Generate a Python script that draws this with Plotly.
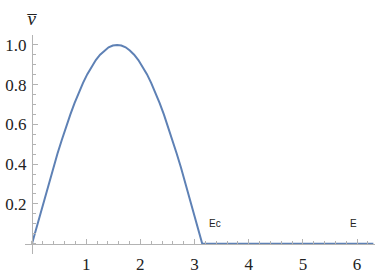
import plotly.graph_objects as go

# Curve values
x_vals = [0.0, 0.079, 0.157, 0.236, 0.314, 0.393, 0.471, 0.55, 0.628, 0.707, 0.785,
          0.864, 0.942, 1.021, 1.1, 1.178, 1.257, 1.335, 1.414, 1.492, 1.571,
          1.649, 1.728, 1.806, 1.885, 1.963, 2.042, 2.121, 2.199, 2.278, 2.356,
          2.435, 2.513, 2.592, 2.67, 2.749, 2.827, 2.906, 2.985, 3.063, 3.142, 6.3]
y_vals = [0.0, 0.078, 0.156, 0.233, 0.309, 0.383, 0.454, 0.522, 0.588, 0.649, 0.707,
          0.76, 0.809, 0.853, 0.891, 0.924, 0.951, 0.972, 0.988, 0.997, 1.0,
          0.997, 0.988, 0.972, 0.951, 0.924, 0.891, 0.853, 0.809, 0.76, 0.707,
          0.649, 0.588, 0.522, 0.454, 0.383, 0.309, 0.233, 0.156, 0.078, 0.0, 0.0]

x_ticks = [1, 2, 3, 4, 5, 6]
y_ticks = [0.2, 0.4, 0.6, 0.8, 1.0]
y_tick_text = ["0.2", "0.4", "0.6", "0.8", "1.0"]

point_labels = ["Ec", "E"]
point_label_x = [3.38, 5.94]
point_label_y = [0.104, 0.104]

xr = [-0.129, 6.33]
yr = [-0.052, 1.05]

fig = go.Figure()
fig.add_trace(go.Scatter(x=x_vals, y=y_vals, mode="lines",
                         line=dict(color="#5E81B5", width=2), hoverinfo="skip"))

axis_color = "#b3b3b3"
serif = "'Liberation Serif', serif"
tick_font = dict(family=serif, size=17, color="#222222")

fig.update_layout(
    width=382, height=277,
    font=dict(family=serif),
    margin=dict(l=25, r=7, t=35, b=23, autoexpand=False),
    paper_bgcolor="white", plot_bgcolor="white",
    showlegend=False,
    xaxis=dict(range=xr, showgrid=False, zeroline=False, automargin=False,
               showline=True, linecolor=axis_color, linewidth=1,
               anchor="free", position=(0 - yr[0]) / (yr[1] - yr[0]),
               tickmode="array", tickvals=x_ticks, ticktext=[str(t) for t in x_ticks],
               ticks="inside", ticklen=5, tickcolor=axis_color, tickwidth=1,
               tickfont=tick_font, ticklabelstandoff=5,
               minor=dict(dtick=0.2, tick0=0, ticks="inside", ticklen=3,
                          tickcolor=axis_color, showgrid=False)),
    yaxis=dict(range=yr, showgrid=False, zeroline=False, automargin=False,
               showline=True, linecolor=axis_color, linewidth=1,
               anchor="free", position=(0 - xr[0]) / (xr[1] - xr[0]),
               tickmode="array", tickvals=y_ticks, ticktext=y_tick_text,
               ticks="inside", ticklen=5, tickcolor=axis_color, tickwidth=1,
               tickfont=tick_font, ticklabelstandoff=2,
               minor=dict(dtick=0.05, tick0=0, ticks="inside", ticklen=3,
                          tickcolor=axis_color, showgrid=False)),
)

for t, px, py in zip(point_labels, point_label_x, point_label_y):
    fig.add_annotation(x=px, y=py, xref="x", yref="y", text=t, showarrow=False,
                       font=dict(family="Liberation Sans", size=10, color="#222222"))

fig.add_annotation(x=0, y=1.0, xref="x", yref="paper", yanchor="bottom",
                   yshift=4, text="<i>v\u0305</i>", showarrow=False,
                   font=dict(family=serif, size=19, color="#222222"))

fig.write_html("out.html", config={"displayModeBar": False},
               post_script="document.body.style.margin='0';document.body.style.overflow='hidden';")
